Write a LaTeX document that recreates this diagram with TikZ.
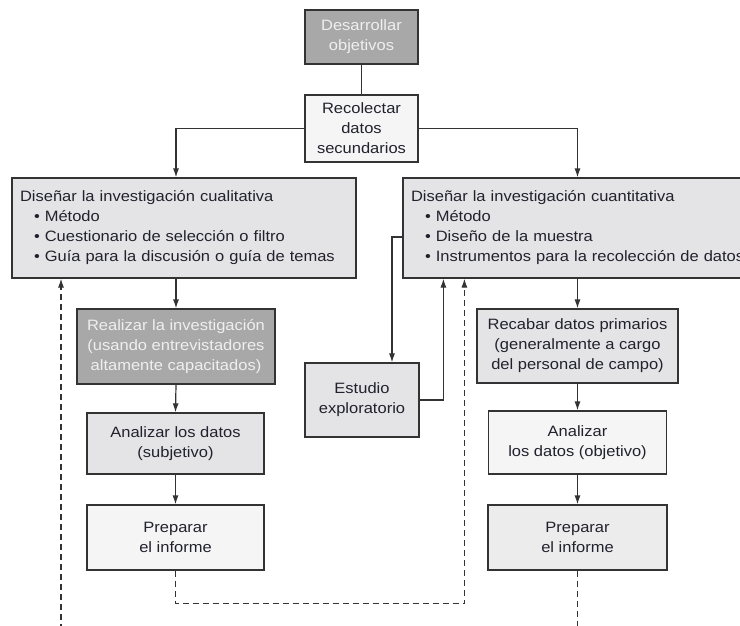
\documentclass[tikz,border=0pt]{standalone}
\usepackage{fontspec}
\setmainfont[FakeStretch=1.1]{Liberation Sans}
\usetikzlibrary{arrows.meta,positioning}
\definecolor{txt}{HTML}{22222E}
\definecolor{edge}{HTML}{333333}
\definecolor{darkf}{HTML}{A8A8A8}
\definecolor{darkt}{HTML}{EFEFEF}
\definecolor{midf}{HTML}{E4E4E6}
\definecolor{litef}{HTML}{F5F5F5}
\definecolor{semif}{HTML}{ECECEC}
\begin{document}
\begin{tikzpicture}[x=1pt,y=-1pt,
  font=\fontsize{15}{20}\selectfont,
  box/.style={draw=edge,line width=1.2pt,text=txt,align=center,inner sep=0pt},
  darkbox/.style={box,fill=darkf,text=darkt},
  midbox/.style={box,fill=midf},
  litebox/.style={box,fill=litef},
  semibox/.style={box,fill=semif},
  listbox/.style={box,fill=midf,align=left,inner xsep=8pt,minimum height=100},
  arr/.style={draw=edge,line width=1.2pt,-{Latex[length=9pt,width=6pt]}},
  conn/.style={draw=edge,line width=1.2pt},
  dsh/.style={dash pattern=on 6pt off 4pt}]
\clip (0,0) rectangle (740,625);
\fill[white] (0,0) rectangle (740,625);
\newcommand{\itm}[1]{\hspace*{14pt}\textbullet\ #1}
\node[darkbox,minimum width=113,minimum height=54] (des) at (361.5,37) {Desarrollar\\objetivos};
\node[litebox,minimum width=113,minimum height=67] (rec) at (361.5,128.5) {Recolectar\\datos\\secundarios};
\node[listbox,text width=328] (qual) at (184,228) {Diseñar la investigación cualitativa\\\itm{Método}\\\itm{Cuestionario de selección o filtro}\\\itm{Guía para la discusión o guía de temas}};
\node[listbox,text width=370] (quant) at (596,228) {Diseñar la investigación cuantitativa\\\itm{Método}\\\itm{Diseño de la muestra}\\\itm{Instrumentos para la recolección de datos}};
\node[darkbox,minimum width=198,minimum height=75] (real) at (176,346.5) {Realizar la investigación\\(usando entrevistadores\\altamente capacitados)};
\node[midbox,minimum width=114,minimum height=74] (est) at (362,400) {Estudio\\exploratorio};
\node[midbox,minimum width=201,minimum height=74] (recab) at (577.5,346) {Recabar datos primarios\\(generalmente a cargo\\del personal de campo)};
\node[midbox,minimum width=177,minimum height=61] (anal1) at (175.5,443.5) {Analizar los datos\\(subjetivo)};
\node[litebox,minimum width=178,minimum height=63] (anal2) at (577.5,442.5) {Analizar\\los datos (objetivo)};
\node[litebox,minimum width=177,minimum height=65] (prep1) at (175.5,537.5) {Preparar\\el informe};
\node[semibox,minimum width=179,minimum height=65] (prep2) at (577.5,537.5) {Preparar\\el informe};
\coordinate (lbot) at (61,630);
\coordinate (rbot) at (577.5,630);
% connectors
\draw[conn] (des.south) -- (rec.north);
\draw[arr] (rec.west) -| (real.north |- qual.north);
\draw[arr] (rec.east) -| (recab.north |- quant.north);
\draw[arr] (real.north |- qual.south) -- (real.north);
\draw[arr] (real.south) -- (anal1.north);
\draw[arr] (anal1.south) -- (prep1.north);
\draw[arr] (recab.north |- quant.south) -- (recab.north);
\draw[arr] (recab.south) -- (anal2.north);
\draw[arr] (anal2.south) -- (prep2.north);
\draw[arr] ([yshift=-9pt]quant.west) -| ([xshift=30pt]est.north);
\draw[arr] (est.east) -| ([xshift=41pt]quant.south west);
\draw[arr,dsh] (prep1.south) -- ++(0,33) -| ([xshift=62pt]quant.south west);
\draw[arr,dsh] (lbot) -- (lbot |- qual.south);
\draw[conn,dsh] (prep2.south) -- (rbot);
\end{tikzpicture}
\end{document}
